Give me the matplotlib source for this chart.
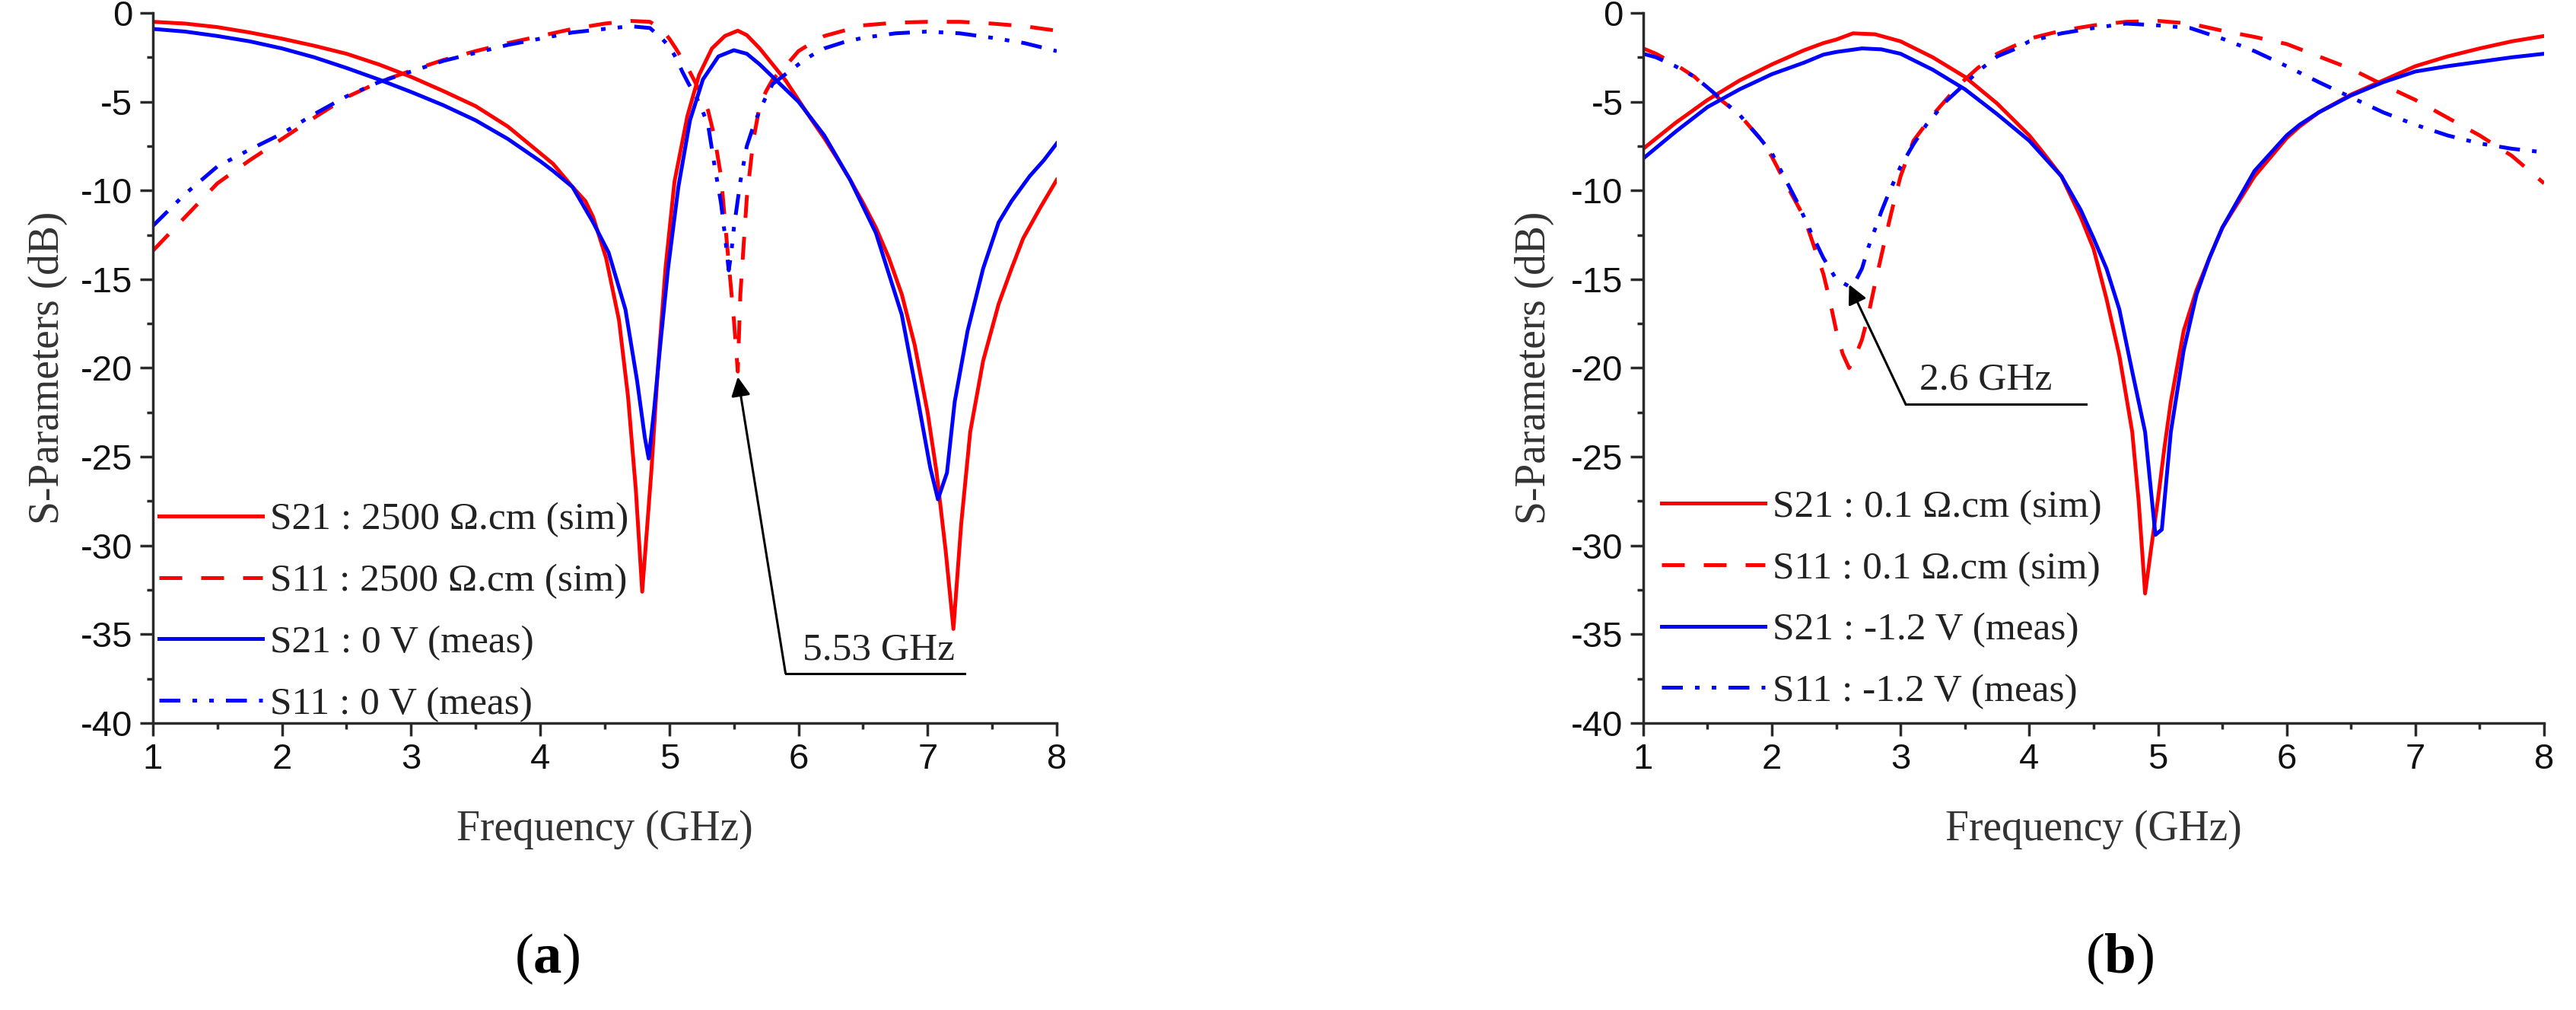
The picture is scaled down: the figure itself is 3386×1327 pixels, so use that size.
import matplotlib
matplotlib.use('Agg')
import matplotlib.pyplot as plt
from matplotlib.ticker import MultipleLocator

plt.rcParams['axes.unicode_minus'] = False
plt.rcParams['mathtext.fontset'] = 'custom'
plt.rcParams['mathtext.rm'] = 'Liberation Serif'
plt.rcParams['mathtext.bf'] = 'Liberation Serif:bold'

RED = '#FF0000'
BLUE = '#0000FF'
DARK = '#2a2a2a'

# ---- panel (a): 2500 ohm.cm sim / 0 V meas ----
a_s21_sim_f = [1.0, 1.25, 1.5, 1.75, 2.0, 2.25, 2.5, 2.75, 3.0, 3.25, 3.5, 3.75, 4.0, 4.1, 4.25, 4.35,
               4.41, 4.51, 4.61, 4.68, 4.74, 4.79, 4.86, 4.91, 4.97, 5.04, 5.14, 5.23, 5.33, 5.43, 5.53,
               5.6, 5.7, 5.8, 5.9, 6.0, 6.1, 6.2, 6.3, 6.4, 6.5, 6.6, 6.7, 6.8, 6.9, 7.0, 7.07, 7.14,
               7.2, 7.26, 7.33, 7.43, 7.55, 7.65, 7.74, 7.87, 8.0]
a_s21_sim_db = [-0.5, -0.6, -0.8, -1.1, -1.45, -1.85, -2.3, -2.9, -3.6, -4.4, -5.25, -6.4, -7.9, -8.5, -9.8, -10.6,
                -11.5, -13.8, -17.3, -21.6, -26.8, -32.6, -25.9, -20.2, -14.4, -9.5, -5.8, -3.5, -2.0, -1.3, -1.0,
                -1.25, -2.0, -2.9, -3.8, -4.9, -6.0, -7.05, -8.2, -9.4, -10.7, -12.1, -13.8, -15.85, -18.7, -22.5,
                -25.9, -30.3, -34.7, -28.8, -23.6, -19.6, -16.4, -14.4, -12.7, -11.0, -9.4]

a_s11_sim_f = [1.0, 1.25, 1.5, 1.75, 2.0, 2.25, 2.5, 2.75, 3.0, 3.25, 3.5, 3.75, 4.0, 4.25, 4.5, 4.7,
               4.85, 4.95, 5.0, 5.05, 5.1, 5.15, 5.2, 5.25, 5.3, 5.35, 5.4, 5.45, 5.5, 5.53, 5.55, 5.6,
               5.65, 5.7, 5.75, 5.8, 5.9, 6.0, 6.1, 6.2, 6.35, 6.5, 6.75, 7.0, 7.25, 7.5, 7.75, 8.0]
a_s11_sim_db = [-13.4, -11.5, -9.6, -8.3, -7.1, -5.9, -4.75, -3.9, -3.25, -2.65, -2.15, -1.7, -1.3, -0.9, -0.6, -0.45,
                -0.5, -1.0, -1.45, -2.0, -2.6, -3.2, -3.9, -4.6, -5.5, -7.0, -9.2, -13.3, -17.3, -20.2, -15.85, -10.4,
                -7.2, -5.2, -4.4, -3.75, -3.0, -2.15, -1.7, -1.3, -1.0, -0.7, -0.55, -0.5, -0.5, -0.6, -0.75, -1.0]

a_s21_meas_f = [1.0, 1.25, 1.5, 1.75, 2.0, 2.25, 2.5, 2.75, 3.0, 3.25, 3.5, 3.75, 4.0, 4.1, 4.25, 4.41,
                4.53, 4.66, 4.75, 4.81, 4.84, 4.88, 4.93, 4.99, 5.07, 5.16, 5.26, 5.38, 5.5, 5.6, 5.7, 5.8,
                6.0, 6.2, 6.4, 6.6, 6.8, 6.92, 7.02, 7.08, 7.15, 7.21, 7.31, 7.43, 7.55, 7.65, 7.79, 7.9, 8.0]
a_s21_meas_db = [-0.9, -1.05, -1.3, -1.6, -2.0, -2.5, -3.1, -3.75, -4.45, -5.2, -6.05, -7.1, -8.35, -8.9, -9.8, -11.8,
                 -13.5, -16.7, -20.7, -23.9, -25.1, -22.5, -18.7, -14.4, -9.8, -6.05, -3.75, -2.45, -2.1, -2.3, -2.9, -3.6,
                 -5.0, -6.9, -9.4, -12.4, -17.0, -21.6, -25.6, -27.4, -25.9, -21.9, -17.9, -14.4, -11.8, -10.6, -9.2,
                 -8.3, -7.35]

a_s11_meas_f = [1.0, 1.25, 1.5, 1.75, 2.0, 2.25, 2.5, 2.75, 3.0, 3.25, 3.5, 3.75, 4.0, 4.25, 4.5, 4.7,
                4.85, 4.95, 5.0, 5.05, 5.1, 5.15, 5.2, 5.25, 5.3, 5.35, 5.4, 5.43, 5.46, 5.48, 5.5, 5.55,
                5.6, 5.65, 5.7, 5.75, 5.8, 5.9, 6.0, 6.1, 6.2, 6.35, 6.5, 6.75, 7.0, 7.25, 7.5, 7.75, 8.0]
a_s11_meas_db = [-12.0, -10.2, -8.65, -7.7, -6.8, -5.7, -4.7, -3.9, -3.3, -2.7, -2.25, -1.8, -1.45, -1.1, -0.9, -0.75,
                 -0.85, -1.5, -1.9, -2.5, -3.3, -4.0, -4.6, -5.4, -6.3, -8.6, -10.7, -12.5, -14.5, -13.5, -12.1, -9.5,
                 -7.5, -6.4, -5.5, -4.7, -4.0, -3.45, -2.9, -2.4, -2.0, -1.65, -1.4, -1.15, -1.05, -1.15, -1.4, -1.7,
                 -2.15]

# ---- panel (b): 0.1 ohm.cm sim / -1.2 V meas ----
b_s21_sim_f = [1.0, 1.25, 1.5, 1.75, 2.0, 2.25, 2.4, 2.5, 2.63, 2.8, 3.0, 3.25, 3.5, 3.75, 4.0, 4.1,
               4.25, 4.4, 4.5, 4.6, 4.7, 4.8, 4.85, 4.9, 4.95, 5.0, 5.05, 5.1, 5.2, 5.3, 5.4, 5.5,
               5.75, 6.0, 6.1, 6.25, 6.5, 6.75, 7.0, 7.25, 7.5, 7.75, 8.0]
b_s21_sim_db = [-7.65, -6.2, -4.9, -3.8, -2.9, -2.1, -1.7, -1.5, -1.15, -1.2, -1.6, -2.5, -3.6, -5.1, -6.9, -7.8,
                -9.2, -11.5, -13.3, -16.1, -19.3, -23.6, -27.5, -32.7, -30.0, -27.4, -24.5, -21.9, -17.9, -15.6, -13.8,
                -12.1, -9.2, -7.05, -6.4, -5.6, -4.6, -3.8, -3.0, -2.45, -2.0, -1.6, -1.3]

b_s11_sim_f = [1.0, 1.1, 1.25, 1.4, 1.5, 1.75, 1.9, 2.0, 2.1, 2.25, 2.4, 2.45, 2.5, 2.55, 2.6, 2.64,
               2.7, 2.75, 2.8, 2.85, 2.9, 2.95, 3.0, 3.1, 3.25, 3.4, 3.5, 3.6, 3.75, 3.9, 4.0, 4.25,
               4.5, 4.75, 5.0, 5.25, 5.5, 5.75, 6.0, 6.25, 6.5, 6.75, 7.0, 7.25, 7.5, 7.75, 8.0]
b_s11_sim_db = [-2.0, -2.3, -2.9, -3.6, -4.3, -5.75, -7.0, -8.1, -9.5, -11.5, -14.7, -16.2, -17.9, -19.2, -20.0, -19.5,
                -18.4, -17.0, -15.3, -13.7, -12.1, -10.6, -9.2, -7.2, -5.75, -4.5, -3.75, -3.1, -2.3, -1.8, -1.45, -1.0,
                -0.7, -0.5, -0.45, -0.6, -1.0, -1.35, -1.75, -2.45, -3.15, -4.05, -4.9, -5.9, -6.9, -8.05, -9.6]

b_s21_meas_f = [1.0, 1.25, 1.5, 1.75, 2.0, 2.25, 2.4, 2.5, 2.7, 2.85, 3.0, 3.25, 3.5, 3.75, 4.0, 4.1,
                4.25, 4.4, 4.5, 4.6, 4.7, 4.8, 4.9, 4.98, 5.03, 5.1, 5.2, 5.3, 5.4, 5.5, 5.75, 6.0,
                6.1, 6.25, 6.5, 6.75, 7.0, 7.25, 7.5, 7.75, 8.0]
b_s21_meas_db = [-8.2, -6.7, -5.3, -4.3, -3.45, -2.8, -2.35, -2.2, -2.0, -2.05, -2.3, -3.2, -4.3, -5.7, -7.2, -8.0,
                 -9.2, -11.1, -12.7, -14.4, -16.7, -20.2, -23.6, -29.4, -29.1, -23.6, -19.0, -15.85, -13.8, -12.1, -8.9,
                 -6.9, -6.3, -5.6, -4.65, -3.9, -3.3, -3.0, -2.75, -2.5, -2.3]

b_s11_meas_f = [1.0, 1.1, 1.25, 1.4, 1.5, 1.75, 1.9, 2.0, 2.1, 2.2, 2.3, 2.4, 2.5, 2.6, 2.65, 2.7,
                2.75, 2.85, 2.9, 3.0, 3.1, 3.2, 3.35, 3.5, 3.6, 3.75, 3.9, 4.0, 4.25, 4.5, 4.75, 5.0,
                5.25, 5.5, 5.75, 6.0, 6.25, 6.5, 6.75, 7.0, 7.25, 7.5, 7.75, 8.0]
b_s11_meas_db = [-2.3, -2.5, -3.0, -3.6, -4.2, -5.75, -7.0, -7.9, -9.3, -10.7, -12.3, -13.8, -15.0, -15.4, -15.1, -14.4,
                 -13.2, -11.2, -10.3, -8.65, -7.4, -6.3, -5.0, -4.0, -3.3, -2.45, -2.0, -1.6, -1.15, -0.85, -0.6, -0.7,
                 -0.85, -1.45, -2.15, -3.0, -3.9, -4.75, -5.6, -6.3, -6.9, -7.35, -7.65, -7.85]

labels_a = ['S21 : 2500 Ω.cm (sim)', 'S11 : 2500 Ω.cm (sim)', 'S21 : 0 V (meas)', 'S11 : 0 V (meas)']
labels_b = ['S21 : 0.1 Ω.cm (sim)', 'S11 : 0.1 Ω.cm (sim)', 'S21 : -1.2 V (meas)', 'S11 : -1.2 V (meas)']

# annotation: arrow tip, arrow tail, end of the underline, label text and its position
ann_a = dict(tip=(5.53, -20.5), tail=(5.90, -37.2), line_end=7.29, text='5.53 GHz', text_xy=(6.62, -36.4))
ann_b = dict(tip=(2.60, -15.3), tail=(3.04, -22.05), line_end=4.44, text='2.6 GHz', text_xy=(3.66, -21.2))

SERIF = ['Liberation Serif', 'DejaVu Serif']
SANS = ['Liberation Sans', 'DejaVu Sans']

fig = plt.figure(figsize=(33.87, 13.27), dpi=100)
ax_a = fig.add_axes([0.0593, 0.2841, 0.3508, 0.7031])
ax_b = fig.add_axes([0.6377, 0.2841, 0.3496, 0.7031])

DASH = (0, (6, 5))
DASHDOTDOT = (0, (5.5, 3.2, 1.2, 3.2, 1.2, 3.2))


def draw_panel(ax, curves, labels, ann, leg_anchor, ylab_x):
    styles = [(RED, '-'), (RED, DASH), (BLUE, '-'), (BLUE, DASHDOTDOT)]
    for (f, db), (col, ls), lab in zip(curves, styles, labels):
        ax.plot(f, db, color=col, linestyle=ls, lw=3.6, label=lab,
                solid_joinstyle='round', dash_capstyle='butt')
    ax.set_xlim(1, 8)
    ax.set_ylim(-40, 0)
    ax.xaxis.set_major_locator(MultipleLocator(1))
    ax.xaxis.set_minor_locator(MultipleLocator(0.5))
    ax.yaxis.set_major_locator(MultipleLocator(5))
    ax.yaxis.set_minor_locator(MultipleLocator(2.5))
    for s in ['top', 'right']:
        ax.spines[s].set_visible(False)
    for s in ['left', 'bottom']:
        ax.spines[s].set_linewidth(2.5)
        ax.spines[s].set_color(DARK)
    ax.tick_params(which='major', direction='out', length=12, width=2.5, color=DARK,
                   labelsize=34, pad=7, labelcolor='#111111')
    ax.tick_params(which='minor', direction='out', length=6, width=2.5, color=DARK)
    for t in ax.get_xticklabels() + ax.get_yticklabels():
        t.set_family(SANS)
    ax.set_xlabel('Frequency (GHz)', family=SERIF, fontsize=40, color='#333333')
    ax.set_ylabel('S-Parameters (dB)', family=SERIF, fontsize=40, color='#333333')
    ax.xaxis.set_label_coords(0.5, -0.150)
    ax.xaxis.label.set_va('center')
    ax.yaxis.set_label_coords(ylab_x, 0.5)
    ax.yaxis.label.set_va('center')

    leg = ax.legend(loc='center left', bbox_to_anchor=leg_anchor, frameon=False,
                    prop={'family': SERIF, 'size': 37}, handlelength=2.65,
                    handletextpad=0.2, labelspacing=0.66, borderpad=0, borderaxespad=0)
    for t in leg.get_texts():
        t.set_color('#222222')

    # arrow and underlined label
    ax.annotate('', xy=ann['tip'], xytext=ann['tail'],
                arrowprops=dict(arrowstyle='-|>', color='black', lw=2.2,
                                mutation_scale=38, shrinkA=0, shrinkB=0))
    ax.plot([ann['tail'][0], ann['line_end']], [ann['tail'][1], ann['tail'][1]],
            color='black', lw=2.2)
    ax.text(ann['text_xy'][0], ann['text_xy'][1], ann['text'], family=SERIF,
            fontsize=37, color='#222222', ha='center', va='baseline')


draw_panel(ax_a,
           [(a_s21_sim_f, a_s21_sim_db), (a_s11_sim_f, a_s11_sim_db),
            (a_s21_meas_f, a_s21_meas_db), (a_s11_meas_f, a_s11_meas_db)],
           labels_a, ann_a, (0.0067, 0.156), -0.116)
draw_panel(ax_b,
           [(b_s21_sim_f, b_s21_sim_db), (b_s11_sim_f, b_s11_sim_db),
            (b_s21_meas_f, b_s21_meas_db), (b_s11_meas_f, b_s11_meas_db)],
           labels_b, ann_b, (0.020, 0.174), -0.121)

# panel captions: regular parentheses, bold letter
for xf, letter in [(0.2123, 'a'), (0.8225, 'b')]:
    fig.text(xf, 0.0505, r'$\mathrm{(}\mathbf{' + letter + r'}\mathrm{)}$', fontsize=54,
             ha='center', va='center', color='black')

fig.savefig('out.png', dpi=100)
